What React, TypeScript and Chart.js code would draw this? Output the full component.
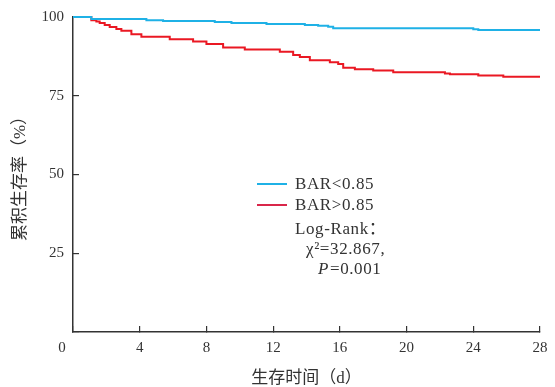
import React, { useEffect, useRef } from 'react';
import { Chart, registerables } from 'chart.js';

Chart.register(...registerables);

// Tick values
const xTickValues = [0, 4, 8, 12, 16, 20, 24, 28];
const yTickValues = [0, 25, 50, 75, 100];

// BAR<0.85 (blue) Kaplan-Meier steps
const blueDays = [0, 1.1, 4.4, 5.4, 8.5, 9.5, 11.6, 13.9, 14.7, 15.3, 15.6, 24.0, 24.3, 28];
const blueSurv = [100, 99.4, 99.0, 98.7, 98.4, 98.1, 97.8, 97.5, 97.2, 96.9, 96.4, 96.1, 95.9, 95.9];

// BAR>0.85 (red) Kaplan-Meier steps
const redDays = [0, 1.1, 1.4, 1.6, 1.9, 2.2, 2.6, 2.9, 3.5, 4.1, 5.8, 7.2, 8.0, 9.0, 10.3, 12.4, 13.2, 13.6, 14.2, 15.4, 15.9, 16.2, 16.9, 18.0, 19.2, 22.3, 22.6, 24.3, 25.8, 28];
const redSurv = [100, 99.0, 98.6, 98.1, 97.5, 96.8, 96.2, 95.6, 94.5, 93.7, 92.9, 92.2, 91.4, 90.3, 89.7, 89.0, 87.9, 87.3, 86.3, 85.6, 85.1, 83.9, 83.4, 83.0, 82.5, 82.1, 81.8, 81.4, 81.0, 81.0];

const seriesNames = ['BAR<0.85', 'BAR>0.85'];
const seriesColors = ['#1fb1e6', '#ea1823'];
const legendLineColors = ['#1fb1e6', '#d9264a'];
const statLines = ['Log-Rank：', 'χ²=32.867,', '=0.001'];

const xTitle = '生存时间（d）';
const yTitle = '累积生存率（%）';

const SERIF = "'Liberation Serif', 'Noto Sans CJK SC', serif";
const TEXT = '#333333';

const overlayPlugin = {
  id: 'overlay',
  afterDraw(chart: any) {
    const ctx = chart.ctx;
    const xs = chart.scales.x;
    ctx.save();
    // origin "0" label
    ctx.font = `15px ${SERIF}`;
    ctx.fillStyle = TEXT;
    ctx.textAlign = 'center';
    ctx.textBaseline = 'middle';
    ctx.fillText(String(xTickValues[0]), xs.getPixelForValue(0) - 11, 348);

    // legend
    const lx0 = 257, lx1 = 287, tx = 295;
    const rows = [184, 205];
    ctx.lineWidth = 2;
    ctx.textAlign = 'left';
    ctx.font = `17px ${SERIF}`;
    try { (ctx as any).letterSpacing = '0.6px'; } catch (e) {}
    rows.forEach((y, i) => {
      ctx.strokeStyle = legendLineColors[i];
      ctx.beginPath();
      ctx.moveTo(lx0, y);
      ctx.lineTo(lx1, y);
      ctx.stroke();
      ctx.fillText(seriesNames[i], tx, y + 1);
    });
    ctx.fillText(statLines[0], tx, 230);
    ctx.fillText(statLines[1], 306, 250);
    ctx.font = `italic 17px ${SERIF}`;
    ctx.fillText('P', 318, 270);
    const pw = ctx.measureText('P').width;
    ctx.font = `17px ${SERIF}`;
    ctx.fillText(statLines[2], 318 + pw + 1, 270);
    ctx.restore();
  },
};

const zeroPadding = (s: any) => {
  s.paddingLeft = 0;
  s.paddingRight = 0;
  s.paddingTop = 0;
  s.paddingBottom = 0;
};

export default function App() {
  const ref = useRef<HTMLCanvasElement>(null);
  useEffect(() => {
    if (!ref.current) return;
    const chart = new Chart(ref.current, {
      type: 'line',
      data: {
        datasets: [
          {
            label: seriesNames[0],
            data: blueDays.map((d, i) => ({ x: d, y: blueSurv[i] })),
            borderColor: seriesColors[0],
            borderWidth: 2,
            pointRadius: 0,
            stepped: true,
            fill: false,
            clip: 6,
          },
          {
            label: seriesNames[1],
            data: redDays.map((d, i) => ({ x: d, y: redSurv[i] })),
            borderColor: seriesColors[1],
            borderWidth: 2,
            pointRadius: 0,
            stepped: true,
            fill: false,
            clip: 6,
          },
        ],
      },
      options: {
        responsive: false,
        animation: false,
        layout: { padding: { left: 0, top: 17, right: 15, bottom: 0 } },
        plugins: {
          legend: { display: false },
          tooltip: { enabled: false },
        },
        scales: {
          x: {
            type: 'linear',
            min: 0,
            max: 28,
            afterBuildTicks: (s: any) => {
              s.ticks = xTickValues.map((v) => ({ value: v }));
            },
            afterFit: (s: any) => {
              s.height = 55;
              zeroPadding(s);
            },
            ticks: {
              color: TEXT,
              font: { family: SERIF, size: 15 },
              padding: 13,
              maxRotation: 0,
              autoSkip: false,
              callback: (v: any) => (v === 0 ? '' : String(v)),
            },
            grid: {
              drawOnChartArea: false,
              drawTicks: true,
              tickLength: -6,
              color: TEXT,
              lineWidth: 1.2,
            },
            border: { display: true, color: TEXT, width: 1.5 },
            title: {
              display: true,
              text: xTitle,
              color: TEXT,
              font: { family: SERIF, size: 17 },
              padding: { top: 0, bottom: -2 },
            },
          },
          y: {
            type: 'linear',
            min: 0,
            max: 100,
            afterBuildTicks: (s: any) => {
              s.ticks = yTickValues.map((v) => ({ value: v }));
            },
            afterFit: (s: any) => {
              s.width = 73;
              zeroPadding(s);
            },
            ticks: {
              color: TEXT,
              font: { family: SERIF, size: 15 },
              padding: 15,
              callback: (v: any) => (v === 0 ? '' : String(v)),
            },
            grid: {
              drawOnChartArea: false,
              drawTicks: true,
              tickLength: -6,
              color: TEXT,
              lineWidth: 1.2,
            },
            border: { display: true, color: TEXT, width: 1.5 },
            title: {
              display: true,
              text: yTitle,
              color: TEXT,
              font: { family: SERIF, size: 17 },
              padding: { top: 10, bottom: 0 },
            },
          },
        },
      },
      plugins: [overlayPlugin],
    } as any);
    return () => chart.destroy();
  }, []);

  return (
    <div style={{ position: 'fixed', left: 0, top: 0, width: 555, height: 387, background: '#fff' }}>
      <canvas ref={ref} width={555} height={387} style={{ width: 555, height: 387, display: 'block' }} />
    </div>
  );
}
